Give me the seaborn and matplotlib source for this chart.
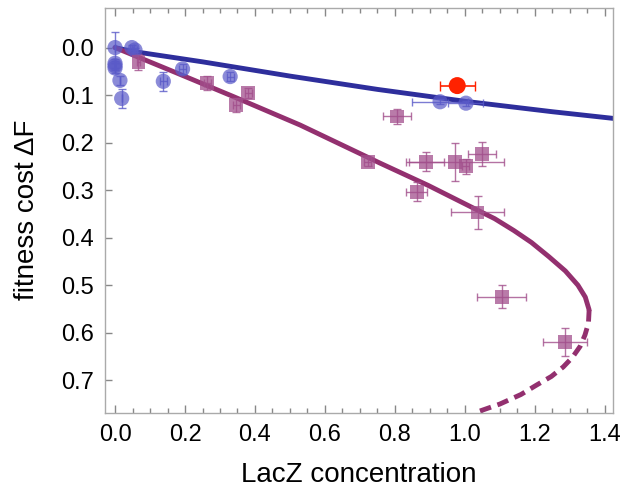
import matplotlib
matplotlib.use("Agg")
from matplotlib import pyplot as plt
from matplotlib.ticker import MultipleLocator
import seaborn as sns

# blue circles (measured, low cost)
blue_x = [0.0, 0.0, 0.0, 0.0, 0.014, 0.019, 0.048, 0.057, 0.138, 0.193, 0.329, 0.929, 1.003]
blue_y = [0.0, 0.033, 0.038, 0.043, 0.069, 0.107, 0.0, 0.005, 0.071, 0.045, 0.061, 0.114, 0.117]
blue_xerr = [0, 0, 0, 0, 0, 0, 0.005, 0.005, 0.01, 0.01, 0.01, 0.08, 0.05]
blue_yerr = [0.033, 0.01, 0.01, 0.01, 0.01, 0.02, 0.005, 0.005, 0.02, 0.01, 0.01, 0.005, 0.005]

# red highlighted point
red_x = [0.978]
red_y = [0.080]
red_xerr = [0.05]

# purple squares
purple_x = [0.067, 0.264, 0.346, 0.381, 0.722, 0.805, 0.862, 0.890, 0.971, 1.003, 1.048, 1.036, 1.105, 1.286]
purple_y = [0.031, 0.075, 0.121, 0.096, 0.240, 0.145, 0.303, 0.240, 0.240, 0.250, 0.224, 0.347, 0.524, 0.620]
purple_xerr = [0.005, 0.01, 0.01, 0.01, 0.01, 0.04, 0.03, 0.05, 0.14, 0.01, 0.04, 0.075, 0.07, 0.063]
purple_yerr = [0.017, 0.015, 0.015, 0.01, 0.01, 0.015, 0.02, 0.02, 0.04, 0.015, 0.025, 0.035, 0.025, 0.03]

# fitted curves
blue_fit_x = [0.0, 0.05, 0.25, 0.5, 0.75, 1.0, 1.25, 1.424]
blue_fit_y = [0.0, 0.008, 0.030, 0.060, 0.088, 0.113, 0.135, 0.149]

purple_fit_x = [0.0, 0.165, 0.338, 0.529, 0.757, 0.895, 1.025, 1.085, 1.14, 1.19,
                1.24, 1.287, 1.323, 1.344, 1.355]
purple_fit_y = [0.0, 0.05, 0.103, 0.163, 0.243, 0.29, 0.338, 0.36, 0.385, 0.41,
                0.44, 0.47, 0.50, 0.525, 0.552]
purple_dash_x = [1.355, 1.353, 1.343, 1.329, 1.307, 1.281, 1.247, 1.205, 1.16, 1.10, 1.03]
purple_dash_y = [0.552, 0.580, 0.605, 0.629, 0.652, 0.672, 0.692, 0.710, 0.730, 0.750, 0.768]

BLUE_LINE = "#2e2e9c"
BLUE_PT = "#5a5ac8"
PURPLE_LINE = "#93306f"
PURPLE_PT = "#a24f8c"
RED = "#ff2200"

sns.set_theme(style="white")
plt.rcParams["font.family"] = ["Liberation Sans", "DejaVu Sans"]
plt.rcParams["text.color"] = "black"
plt.rcParams["axes.labelcolor"] = "black"
plt.rcParams["xtick.labelcolor"] = "black"
plt.rcParams["ytick.labelcolor"] = "black"

fig = plt.figure(figsize=(6.27, 4.9), dpi=100)
ax = fig.add_axes([0.1675, 0.158, 0.8095, 0.826])

sns.lineplot(x=blue_fit_x, y=blue_fit_y, ax=ax, color=BLUE_LINE, linewidth=3.5,
             sort=False, estimator=None, zorder=2)
sns.lineplot(x=purple_fit_x, y=purple_fit_y, ax=ax, color=PURPLE_LINE, linewidth=3.5,
             sort=False, estimator=None, zorder=2)
sns.lineplot(x=purple_dash_x, y=purple_dash_y, ax=ax, color=PURPLE_LINE, linewidth=3.5,
             sort=False, estimator=None, zorder=2)
ax.lines[-1].set_linestyle((0, (2.4, 1.4)))

ax.errorbar(blue_x, blue_y, xerr=blue_xerr, yerr=blue_yerr, fmt="none", ecolor=BLUE_PT,
            elinewidth=1, capsize=3, alpha=0.8, zorder=3)
sns.scatterplot(x=blue_x, y=blue_y, ax=ax, color=BLUE_PT, s=120, alpha=0.7,
                edgecolor="none", marker="o", zorder=4)

ax.errorbar(purple_x, purple_y, xerr=purple_xerr, yerr=purple_yerr, fmt="none",
            ecolor=PURPLE_PT, elinewidth=1, capsize=3, alpha=0.8, zorder=3)
sns.scatterplot(x=purple_x, y=purple_y, ax=ax, color=PURPLE_PT, s=100, alpha=0.75,
                edgecolor="none", marker="s", zorder=4)

ax.errorbar(red_x, red_y, xerr=red_xerr, fmt="none", ecolor=RED, elinewidth=1.2,
            capsize=3.5, zorder=5)
sns.scatterplot(x=red_x, y=red_y, ax=ax, color=RED, s=150, edgecolor="none", zorder=6)

ax.set_xlim(-0.0286, 1.422)
ax.set_ylim(0.768, -0.0836)

ax.xaxis.set_minor_locator(MultipleLocator(0.05))
ax.set_xticks([0.0, 0.2, 0.4, 0.6, 0.8, 1.0, 1.2, 1.4])
ax.set_yticks([0.0, 0.1, 0.2, 0.3, 0.4, 0.5, 0.6, 0.7])
ax.xaxis.set_major_formatter(lambda v, p: f"{v:.1f}")
ax.yaxis.set_major_formatter(lambda v, p: f"{v:.1f}")

ax.tick_params(axis="x", which="both", direction="in", top=True, bottom=True,
               color="#888888", width=1, labelsize=17, pad=8)
ax.tick_params(axis="x", which="major", length=6)
ax.tick_params(axis="x", which="minor", length=3.5)
ax.tick_params(axis="y", which="major", direction="in", left=True, right=False,
               length=5, color="#888888", width=1, labelsize=17, pad=8)

for side in ax.spines.values():
    side.set_color("#aaaaaa")
    side.set_linewidth(1)

ax.set_xlabel("LacZ concentration", fontsize=20, labelpad=12)
ax.set_ylabel("fitness cost \u0394F", fontsize=20, labelpad=15)

fig.savefig("out.png", dpi=100)
